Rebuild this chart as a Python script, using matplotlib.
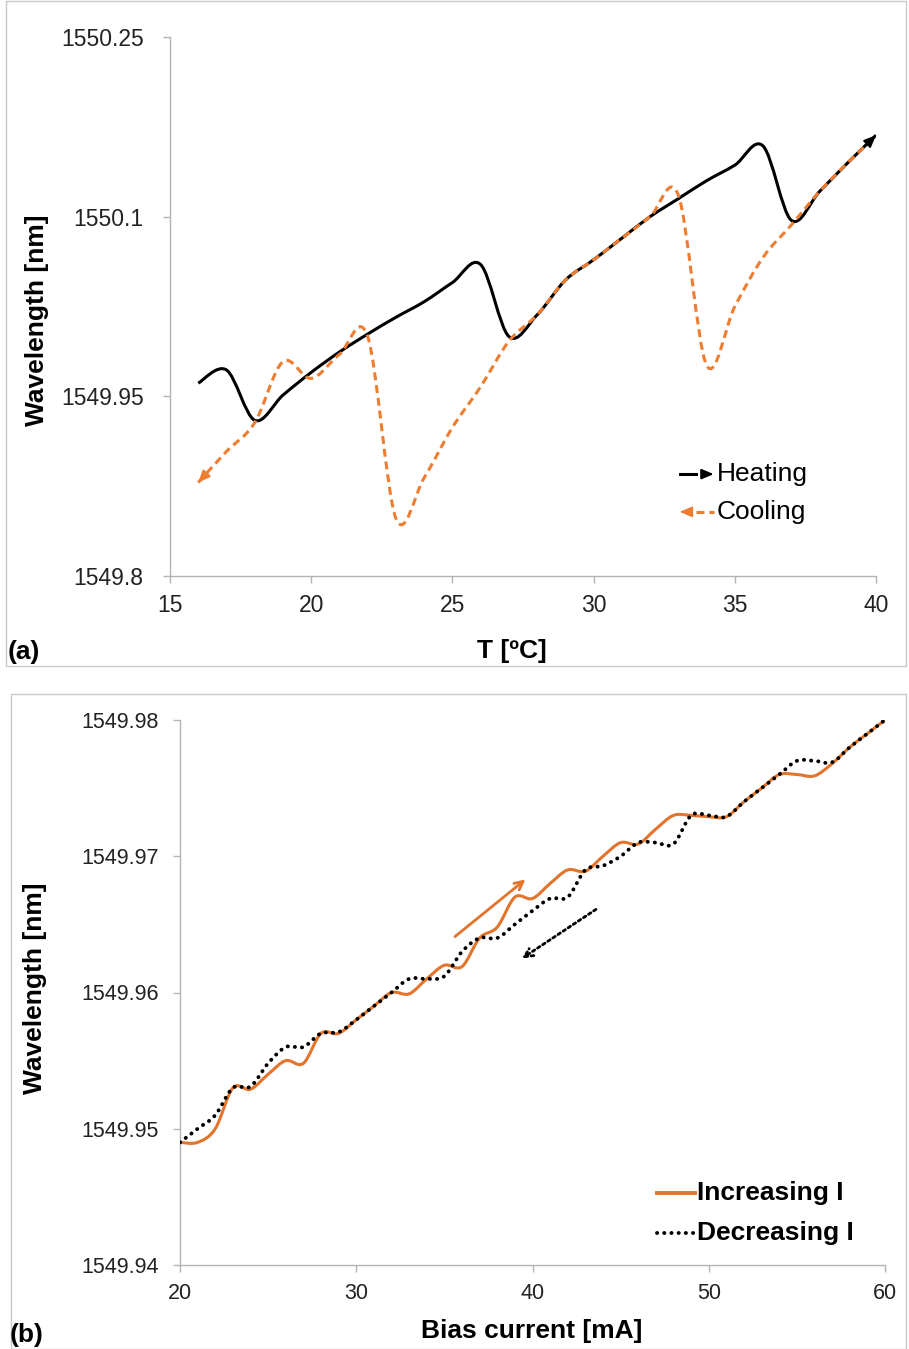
import numpy as np
import matplotlib
matplotlib.use("Agg")
import matplotlib.pyplot as plt
from matplotlib.path import Path
from matplotlib.patches import PathPatch, Rectangle

plt.rcParams['font.family'] = ['Liberation Sans', 'DejaVu Sans']

# ---- data (a): wavelength vs temperature
temp = [16, 17, 18, 19, 20, 21, 22, 23, 24, 25, 26, 27, 28, 29, 30, 31, 32,
        33, 34, 35, 36, 37, 38, 39, 40]
heating = [1549.961, 1549.972, 1549.930, 1549.951, 1549.970, 1549.987, 1550.002,
           1550.016, 1550.029, 1550.045, 1550.060, 1550.000, 1550.018, 1550.047,
           1550.064, 1550.082, 1550.100, 1550.115, 1550.130, 1550.143, 1550.159,
           1550.097, 1550.121, 1550.145, 1550.168]
cooling = [1549.878, 1549.904, 1549.928, 1549.979, 1549.965, 1549.985, 1550.000,
           1549.848, 1549.882, 1549.924, 1549.958, 1549.996, 1550.018, 1550.047,
           1550.064, 1550.082, 1550.100, 1550.118, 1549.976, 1550.025, 1550.066,
           1550.093, 1550.121, 1550.145, 1550.168]
a_xticks = [15, 20, 25, 30, 35, 40]
a_yticks = [1549.8, 1549.95, 1550.1, 1550.25]
a_ylabels = ['1549.8', '1549.95', '1550.1', '1550.25']

# ---- data (b): wavelength vs bias current
current = list(range(20, 61))
increasing = [1549.9490, 1549.9490, 1549.9500, 1549.9530, 1549.9529, 1549.9540,
              1549.9550, 1549.9548, 1549.9570, 1549.9570, 1549.9580, 1549.9590,
              1549.9600, 1549.9599, 1549.9610, 1549.9620, 1549.9619, 1549.9640,
              1549.9648, 1549.9670, 1549.9669, 1549.9680, 1549.9690, 1549.9689,
              1549.9700, 1549.9710, 1549.9709, 1549.9720, 1549.9730, 1549.9730,
              1549.9729, 1549.9729, 1549.9740, 1549.9750, 1549.9760, 1549.9760,
              1549.9759, 1549.9768, 1549.9780, 1549.9790, 1549.9800]
decreasing = [1549.9490, 1549.9500, 1549.9510, 1549.9530, 1549.9531, 1549.9548,
              1549.9560, 1549.9560, 1549.9570, 1549.9571, 1549.9580, 1549.9590,
              1549.9600, 1549.9610, 1549.9610, 1549.9612, 1549.9630, 1549.9640,
              1549.9640, 1549.9650, 1549.9660, 1549.9669, 1549.9670, 1549.9690,
              1549.9693, 1549.9700, 1549.9710, 1549.9710, 1549.9709, 1549.9730,
              1549.9730, 1549.9729, 1549.9740, 1549.9750, 1549.9760, 1549.9770,
              1549.9770, 1549.9769, 1549.9780, 1549.9790, 1549.9800]
b_xticks = [20, 30, 40, 50, 60]
b_yticks = [1549.94, 1549.95, 1549.96, 1549.97, 1549.98]
up_arrow = [(35.6, 1549.9641), (39.6, 1549.9683)]
down_arrow = [(43.6, 1549.9661), (39.4, 1549.9625)]

ORANGE = '#ED7D31'
ORANGE_B = '#E2742B'
GRAY = '#B4B4B4'
DOTS = (0, (0.05, 1.8))


def smooth_path(xs, ys):
    # excel-like smoothed line (catmull-rom as bezier)
    n = len(xs)
    verts = [(xs[0], ys[0])]
    codes = [Path.MOVETO]
    for i in range(n - 1):
        a = i - 1 if i > 0 else i
        d = i + 2 if i + 2 < n else i + 1
        c1 = (xs[i] + (xs[i + 1] - xs[a]) / 6, ys[i] + (ys[i + 1] - ys[a]) / 6)
        c2 = (xs[i + 1] - (xs[d] - xs[i]) / 6, ys[i + 1] - (ys[d] - ys[i]) / 6)
        verts += [c1, c2, (xs[i + 1], ys[i + 1])]
        codes += [Path.CURVE4] * 3
    return Path(verts, codes)


def curve(ax, xs, ys, color, ls, lw, z, cap='butt'):
    p = PathPatch(smooth_path(xs, ys), fill=False, edgecolor=color,
                  linestyle=ls, lw=lw, zorder=z)
    p.set_capstyle(cap)
    ax.add_patch(p)


def head(ax, p_from, p_to, color, coords='data'):
    f = 0.85
    start = (p_from[0] + f * (p_to[0] - p_from[0]), p_from[1] + f * (p_to[1] - p_from[1]))
    ax.annotate('', xy=p_to, xytext=start, xycoords=coords, textcoords=coords,
                arrowprops=dict(arrowstyle='-|>,head_length=0.7,head_width=0.3',
                                color=color, lw=1.5, shrinkA=0, shrinkB=0),
                zorder=5)


def style_axes(ax, fs, pad):
    for s in ['top', 'right']:
        ax.spines[s].set_visible(False)
    for s in ['left', 'bottom']:
        ax.spines[s].set_color(GRAY)
        ax.spines[s].set_linewidth(1.0)
    ax.tick_params(axis='both', direction='out', length=5, width=1.0,
                   color=GRAY, labelsize=fs, labelcolor='#222222')
    ax.tick_params(axis='y', pad=pad)
    ax.tick_params(axis='x', pad=8)


fig = plt.figure(figsize=(9.09, 13.49), dpi=100)
W, H = 909, 1349

# panel frames
fig.add_artist(Rectangle((6 / W, 1 - 666 / H), 900 / W, 665 / H, transform=fig.transFigure,
                         fill=False, edgecolor='#C8C8C8', lw=1.0))
fig.add_artist(Rectangle((11 / W, 0.0), 895 / W, 1 - 694 / H, transform=fig.transFigure,
                         fill=False, edgecolor='#C8C8C8', lw=1.0))

# ---------------- panel (a)
ax1 = fig.add_axes([170 / W, 1 - 576 / H, 706 / W, 539 / H])
style_axes(ax1, 16.5, 14)
ax1.set_xlim(15, 40)
ax1.set_ylim(1549.8, 1550.25)
ax1.set_xticks(a_xticks)
ax1.set_yticks(a_yticks)
ax1.set_yticklabels(a_ylabels)

curve(ax1, temp, heating, 'black', '-', 2.2, 3)
curve(ax1, temp, cooling, ORANGE, (0, (2.6, 1.6)), 2.2, 4)
head(ax1, (temp[-2], heating[-2]), (temp[-1], heating[-1]), 'black')
head(ax1, (temp[1], cooling[1]), (temp[0], cooling[0]), ORANGE)

# legend (a)
ax1.plot([0.722, 0.745], [0.189, 0.189], transform=ax1.transAxes, color='black', lw=2.2)
head(ax1, (0.722, 0.189), (0.770, 0.189), 'black', coords='axes fraction')
ax1.plot([0.745, 0.770], [0.119, 0.119], transform=ax1.transAxes, color=ORANGE, lw=2.2,
         linestyle=(0, (2.6, 1.6)))
head(ax1, (0.770, 0.119), (0.722, 0.119), ORANGE, coords='axes fraction')
ax1.text(0.774, 0.189, 'Heating', transform=ax1.transAxes, fontsize=19, va='center')
ax1.text(0.774, 0.119, 'Cooling', transform=ax1.transAxes, fontsize=19, va='center')

fig.text(512 / W, 1 - 651 / H, 'T [ºC]', fontsize=19, fontweight='bold', ha='center', va='center')
fig.text(37 / W, 1 - 320 / H, 'Wavelength [nm]', fontsize=19, fontweight='bold',
         rotation=90, ha='center', va='center')
fig.text(8 / W, 1 - 652 / H, '(a)', fontsize=19, fontweight='bold', ha='left', va='center')

# ---------------- panel (b)
ax2 = fig.add_axes([180 / W, 1 - 1265 / H, 705 / W, 545 / H])
style_axes(ax2, 15.5, 10)
ax2.set_xlim(20, 60)
ax2.set_ylim(1549.94, 1549.98)
ax2.set_xticks(b_xticks)
ax2.set_yticks(b_yticks)
ax2.set_yticklabels(['%.2f' % v for v in b_yticks])

curve(ax2, current, increasing, ORANGE_B, '-', 2.2, 3)
curve(ax2, current, decreasing, 'black', DOTS, 2.8, 4, cap='round')

ax2.annotate('', xy=up_arrow[1], xytext=up_arrow[0],
             arrowprops=dict(arrowstyle='->,head_length=0.6,head_width=0.3',
                             color=ORANGE_B, lw=2.0, shrinkA=0, shrinkB=0))
ax2.annotate('', xy=down_arrow[1], xytext=down_arrow[0],
             arrowprops=dict(arrowstyle='->,head_length=0.6,head_width=0.3',
                             color='black', lw=2.0, linestyle=(0, (1, 1.2)),
                             shrinkA=0, shrinkB=0))

# legend (b)
ax2.plot([0.677, 0.730], [0.132, 0.132], transform=ax2.transAxes, color=ORANGE_B, lw=2.8)
ax2.plot([0.677, 0.730], [0.0587, 0.0587], transform=ax2.transAxes, color='black', lw=2.8,
         linestyle=DOTS, dash_capstyle='round')
ax2.text(0.733, 0.132, 'Increasing I', transform=ax2.transAxes, fontsize=19,
         fontweight='bold', va='center')
ax2.text(0.733, 0.0587, 'Decreasing I', transform=ax2.transAxes, fontsize=19,
         fontweight='bold', va='center')

fig.text(532 / W, 1 - 1331 / H, 'Bias current [mA]', fontsize=19, fontweight='bold',
         ha='center', va='center')
fig.text(35 / W, 1 - 988 / H, 'Wavelength [nm]', fontsize=19, fontweight='bold',
         rotation=90, ha='center', va='center')
fig.text(10 / W, 1 - 1335 / H, '(b)', fontsize=19, fontweight='bold', ha='left', va='center')

fig.savefig('out.png', dpi=100)
